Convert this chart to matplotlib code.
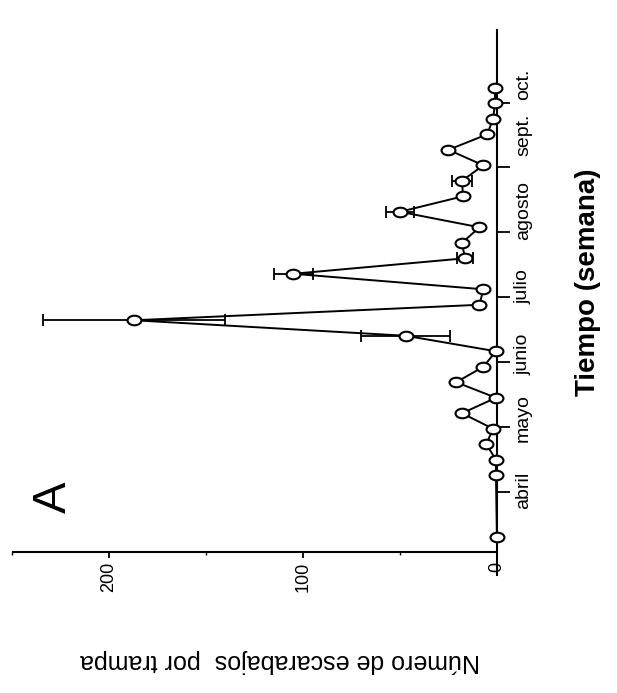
import numpy as np
import matplotlib
matplotlib.use('Agg')
from matplotlib import pyplot as plt
from matplotlib.path import Path
from matplotlib.transforms import Affine2D

plt.rcParams['font.family'] = ['Liberation Sans', 'DejaVu Sans']

# semana (0 = primera trampa) y numero de escarabajos por trampa
weeks = [0, 4, 5, 6, 7, 8, 9, 10, 11, 12, 13, 14, 15, 16, 17, 18, 19, 20,
         21, 22, 23, 24, 25, 26, 27, 28, 29]
counts = [0, 0.5, 0.5, 5.5, 2, 18, 0.5, 21, 7, 0.5, 47, 187, 9, 7, 105, 16.5,
          18, 9, 50, 17.5, 18, 7, 25, 5, 2, 1, 1]
errors = [0, 0, 0, 0, 0, 0, 0, 0, 0, 0, 23, 47, 0, 0, 10, 4,
          0, 0, 7, 0, 5, 0, 0, 0, 0, 0, 0]

month_ticks = [2.9, 7.1, 11.3, 15.5, 19.7, 23.9, 28.0]
month_names = ['abril', 'mayo', 'junio', 'julio', 'agosto', 'sept.', 'oct.']
month_label_pos = [3.0, 7.7, 11.8, 16.2, 21.1, 26.0, 29.2]

count_ticks = [0, 100, 200]
count_minor = [50, 150, 250]

fig = plt.figure(figsize=(6.17, 6.93), dpi=100)
ax = fig.add_axes([0.0194, 0.170, 0.786, 0.786])

# open elliptical marker, like the scanned figure
ell = Path.unit_circle().transformed(Affine2D().scale(1.45, 1.0))

w = np.array(weeks)
c = np.array(counts)
e = np.array(errors)
m = e > 0
ax.errorbar(c[m], w[m], xerr=e[m], fmt='none', ecolor='black',
            elinewidth=1.3, capsize=4, capthick=1.3, zorder=2, clip_on=False)
ax.plot(c, w, '-', color='black', lw=1.4, marker=ell, ms=10, mew=1.5,
        mfc='white', mec='black', zorder=3, clip_on=False)

ax.set_xlim(249.4, 0)
ax.set_ylim(-2.45, 32.7)

for s in ['top', 'left']:
    ax.spines[s].set_visible(False)
ax.spines['right'].set_linewidth(1.5)
ax.spines['bottom'].set_linewidth(1.5)
ax.spines['bottom'].set_position(('data', -0.97))
ax.spines['bottom'].set_bounds(0, 249.4)

ax.set_xticks(count_ticks)
ax.set_xticks(count_minor, minor=True)
ax.set_xticklabels([str(v) for v in count_ticks], rotation=90, fontsize=13)
ax.tick_params(axis='x', which='major', direction='out', length=4, width=1.3, pad=3)
ax.tick_params(axis='x', which='minor', direction='out', length=2, width=1)

ax.yaxis.tick_right()
ax.set_yticks(month_ticks)
ax.set_yticklabels([])
ax.set_yticks(month_label_pos, minor=True)
ax.set_yticklabels(month_names, minor=True, rotation=90, va='center', fontsize=14)
ax.tick_params(axis='y', which='major', direction='out', length=9, width=1.3)
ax.tick_params(axis='y', which='minor', length=0, pad=13)

fig.text(0.953, 0.592, 'Tiempo (semana)', rotation=90, fontsize=20,
         fontweight='bold', ha='center', va='center')
fig.text(0.453, 0.046, 'Número de escarabajos  por trampa', rotation=180,
         fontsize=18, ha='center', va='center')
fig.text(0.087, 0.283, 'A', rotation=90, fontsize=34, ha='center', va='center')

fig.savefig('out.png', dpi=100)
